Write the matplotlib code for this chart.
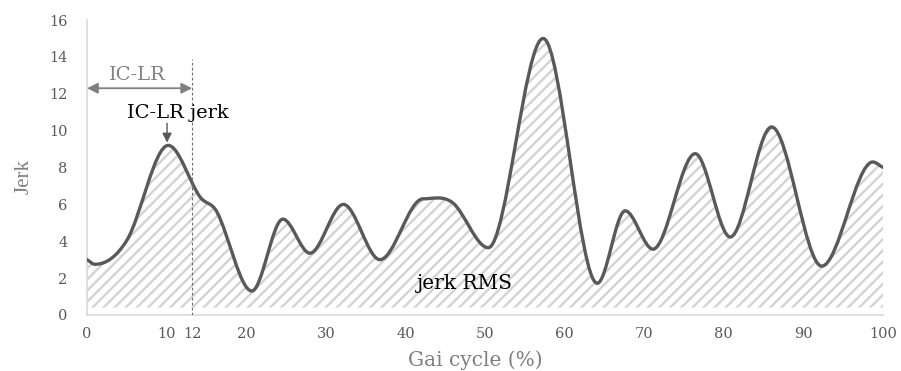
import matplotlib.pyplot as plt
from matplotlib.path import Path
from matplotlib.patches import PathPatch

# Jerk RMS (gait cycle %, jerk)
gait_pct = [0, 1, 5, 10.2, 14.2, 16.3, 20.7, 24.6, 28.0, 32.2, 36.8, 42.2, 45.9,
            50.4, 57.3, 64.1, 67.6, 71.1, 76.4, 80.8, 86.0, 92.3, 98.7, 100]
jerk = [3.0, 2.75, 4.05, 9.2, 6.4, 5.6, 1.3, 5.2, 3.35, 6.0, 3.0, 6.3, 6.1,
        3.65, 15.0, 1.72, 5.65, 3.57, 8.75, 4.23, 10.2, 2.65, 8.3, 8.0]

x_ticks = [0, 10, 13.2, 20, 30, 40, 50, 60, 70, 80, 90, 100]
x_tick_labels = ["0", "10", "12", "20", "30", "40", "50", "60", "70", "80", "90", "100"]
y_ticks = list(range(0, 17, 2))
ic_lr_end = 13.2   # where the "12" marker sits in the picture

plt.rcParams["font.family"] = ["DejaVu Serif"]
plt.rcParams["hatch.linewidth"] = 1.7


def smooth_verts(xs, ys):
    # cubic hermite -> bezier, flat at local extrema (like excel's smoothed line)
    n = len(xs)
    slopes = []
    for i in range(n):
        if i == 0:
            m = (ys[1] - ys[0]) / (xs[1] - xs[0])
        elif i == n - 1:
            m = (ys[-1] - ys[-2]) / (xs[-1] - xs[-2])
        elif (ys[i] - ys[i - 1]) * (ys[i + 1] - ys[i]) <= 0:
            m = 0.0
        else:
            m = (ys[i + 1] - ys[i - 1]) / (xs[i + 1] - xs[i - 1])
        slopes.append(m)
    verts = [(xs[0], ys[0])]
    codes = [Path.MOVETO]
    for i in range(n - 1):
        h = (xs[i + 1] - xs[i]) / 3
        verts += [(xs[i] + h, ys[i] + slopes[i] * h),
                  (xs[i + 1] - h, ys[i + 1] - slopes[i + 1] * h),
                  (xs[i + 1], ys[i + 1])]
        codes += [Path.CURVE4] * 3
    return verts, codes


fig = plt.figure(figsize=(9.01, 3.71), dpi=100)
ax = fig.add_axes([0.0966, 0.151, 0.8835, 0.795])

verts, codes = smooth_verts(gait_pct, jerk)

# hatched area under the curve
base = 0.4
fill_verts = verts + [(gait_pct[-1], base), (gait_pct[0], base), verts[0]]
fill_codes = codes + [Path.LINETO, Path.LINETO, Path.CLOSEPOLY]
ax.add_patch(PathPatch(Path(fill_verts, fill_codes), facecolor="none",
                       edgecolor="#d3d3d3", hatch="///", lw=0, zorder=1))

ax.add_patch(PathPatch(Path(verts, codes), facecolor="none", edgecolor="#595959",
                       lw=2.4, capstyle="round", joinstyle="round", zorder=3))

ax.set_xlim(0, 100)
ax.set_ylim(0, 16)
ax.set_xticks(x_ticks)
ax.set_xticklabels(x_tick_labels)
ax.set_yticks(y_ticks)
ax.tick_params(length=0, labelsize=10.5, labelcolor="#595959")
ax.tick_params(axis="x", pad=9)
ax.tick_params(axis="y", pad=14)
for side in ["top", "right"]:
    ax.spines[side].set_visible(False)
for side in ["left", "bottom"]:
    ax.spines[side].set_color("#d9d9d9")
    ax.spines[side].set_linewidth(1.2)

fig.text(475 / 901, 1 - 360 / 371, "Gai cycle (%)", ha="center", va="center",
         fontsize=14.5, color="#7f7f7f")
fig.text(24 / 901, 1 - 176 / 371, "Jerk", ha="center", va="center", rotation=90,
         fontsize=15, color="#7f7f7f", family="Liberation Serif")

# IC-LR phase markers
ax.plot([ic_lr_end, ic_lr_end], [0, 13.9], ls=(0, (2.5, 2)), color="#6d6d6d", lw=0.8, zorder=4)
ax.annotate("", xy=(0, 12.3), xytext=(ic_lr_end, 12.3),
            arrowprops=dict(arrowstyle="<|-|>", color="#808080", lw=1.3,
                            mutation_scale=16, shrinkA=0, shrinkB=0))
ax.text(6.3, 13.0, "IC-LR", ha="center", va="center", fontsize=14, color="#808080")
ax.text(11.4, 10.95, "IC-LR jerk", ha="center", va="center", fontsize=14, color="black")
ax.annotate("", xy=(10.05, 9.35), xytext=(10.05, 10.4),
            arrowprops=dict(arrowstyle="-|>", color="#595959", lw=1.0,
                            mutation_scale=14, shrinkA=0, shrinkB=0))
ax.text(47.5, 1.7, "jerk RMS", ha="center", va="center", fontsize=14.5, color="black")

fig.savefig("out.png", dpi=100)
